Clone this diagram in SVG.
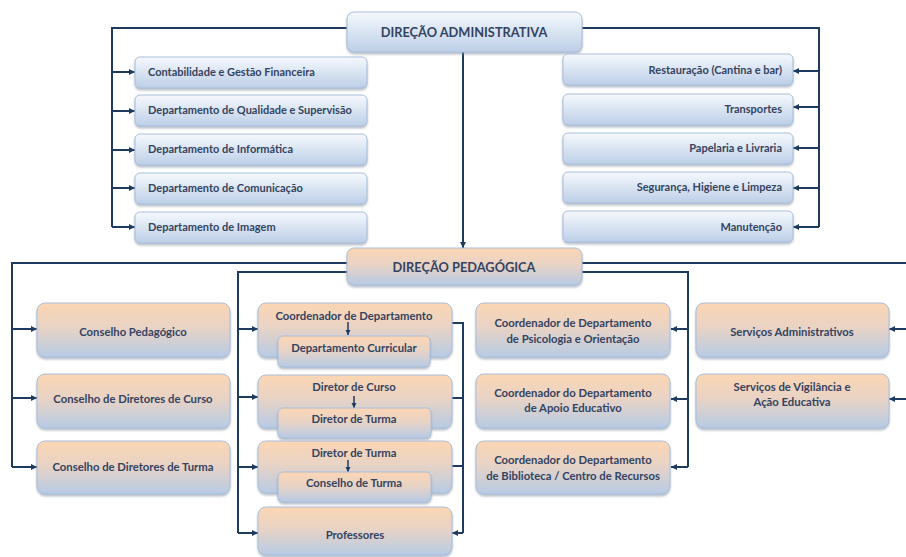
<svg xmlns="http://www.w3.org/2000/svg" width="906" height="557" viewBox="0 0 906 557">
<defs>
<linearGradient id="gA" x1="0" y1="0" x2="0" y2="1">
<stop offset="0" stop-color="#f6f9fd"/>
<stop offset="1" stop-color="#bccfe7"/>
</linearGradient>
<linearGradient id="gP" x1="0" y1="0" x2="0" y2="1">
<stop offset="0" stop-color="#fbd6b3"/>
<stop offset="0.45" stop-color="#e9d3c5"/>
<stop offset="1" stop-color="#b7cbe5"/>
</linearGradient>
<filter id="sh" x="-10%" y="-20%" width="120%" height="150%">
<feDropShadow dx="0" dy="2" stdDeviation="1.2" flood-color="#7f8da0" flood-opacity="0.55"/>
</filter>
<marker id="ar" markerUnits="userSpaceOnUse" markerWidth="7" markerHeight="7" refX="6" refY="3.5" orient="auto">
<path d="M0,0.5 L6,3.5 L0,6.5 z" fill="#1f3a5f"/>
</marker>
<marker id="ars" markerUnits="userSpaceOnUse" markerWidth="6" markerHeight="6" refX="5" refY="3" orient="auto">
<path d="M0,0.5 L5,3 L0,5.5 z" fill="#1f3a5f"/>
</marker>
</defs>
<style>
.a{fill:url(#gA);stroke:#a9bedb;stroke-width:1;filter:url(#sh)}
.p{fill:url(#gP);stroke:#a9bedb;stroke-width:1;filter:url(#sh)}
.c{fill:none;stroke:#1f3a5f;stroke-width:2}
.ca{fill:none;stroke:#1f3a5f;stroke-width:2;marker-end:url(#ar)}
.cs{fill:none;stroke:#1f3a5f;stroke-width:1.5;marker-end:url(#ars)}
text{font-family:Lato,"Open Sans","Liberation Sans",sans-serif;font-weight:bold;fill:#34435f;font-size:11.3px}
.h{font-size:12.8px;text-anchor:middle}
.s{font-size:11px}
.m{text-anchor:middle}
.r{text-anchor:end}
</style>

<g id="connectors">
<path class="c" d="M347,28 H112 V227"/>
<path class="ca" d="M112,72 H135"/>
<path class="ca" d="M112,111 H135"/>
<path class="ca" d="M112,150 H135"/>
<path class="ca" d="M112,188 H135"/>
<path class="ca" d="M112,227 H135"/>
<path class="c" d="M582,28 H819 V227"/>
<path class="ca" d="M819,71 H793"/>
<path class="ca" d="M819,107 H793"/>
<path class="ca" d="M819,148 H793"/>
<path class="ca" d="M819,188 H793"/>
<path class="ca" d="M819,227 H793"/>
<path class="ca" d="M463,52 V248"/>
<path class="c" d="M347,263 H12 V467"/>
<path class="ca" d="M12,329 H37"/>
<path class="ca" d="M12,398 H37"/>
<path class="ca" d="M12,467 H37"/>
<path class="c" d="M347,272 H238 V533"/>
<path class="ca" d="M238,329 H258"/>
<path class="ca" d="M238,397 H258"/>
<path class="ca" d="M238,467 H258"/>
<path class="ca" d="M238,533 H258"/>
<path class="c" d="M582,263 H906"/>
<path class="ca" d="M906,329 H889"/>
<path class="ca" d="M906,399 H889"/>
<path class="c" d="M582,272 H688 V467"/>
<path class="ca" d="M688,329 H671"/>
<path class="ca" d="M688,399 H671"/>
<path class="ca" d="M688,467 H671"/>
<path class="c" d="M452,323 H463 M452,398 H463 M452,466 H463 M463,322 V533"/>
<path class="ca" d="M463,533 H452"/>
</g>

<g id="dir-admin"><rect class="a" x="347" y="12" width="235" height="40" rx="7"/><text class="h" x="464" y="37">DIREÇÃO ADMINISTRATIVA</text></g>

<g id="contab"><rect class="a" x="135" y="57" width="232" height="31" rx="5"/><text class="s" x="148" y="76">Contabilidade e Gestão Financeira</text></g>
<g id="qualidade"><rect class="a" x="135" y="95" width="232" height="31" rx="5"/><text class="s" x="148" y="114">Departamento de Qualidade e Supervisão</text></g>
<g id="informatica"><rect class="a" x="135" y="134" width="232" height="31" rx="5"/><text class="s" x="148" y="153">Departamento de Informática</text></g>
<g id="comunicacao"><rect class="a" x="135" y="173" width="232" height="31" rx="5"/><text class="s" x="148" y="192">Departamento de Comunicação</text></g>
<g id="imagem"><rect class="a" x="135" y="212" width="232" height="31" rx="5"/><text class="s" x="148" y="231">Departamento de Imagem</text></g>

<g id="restauracao"><rect class="a" x="563" y="54" width="230" height="31" rx="5"/><text class="s r" x="782" y="74">Restauração (Cantina e bar)</text></g>
<g id="transportes"><rect class="a" x="563" y="94" width="230" height="31" rx="5"/><text class="s r" x="782" y="113">Transportes</text></g>
<g id="papelaria"><rect class="a" x="563" y="133" width="230" height="31" rx="5"/><text class="s r" x="782" y="152">Papelaria e Livraria</text></g>
<g id="seguranca"><rect class="a" x="563" y="172" width="230" height="31" rx="5"/><text class="s r" x="782" y="191">Segurança, Higiene e Limpeza</text></g>
<g id="manutencao"><rect class="a" x="563" y="211" width="230" height="31" rx="5"/><text class="s r" x="782" y="231">Manutenção</text></g>

<g id="dir-ped"><rect class="p" x="347" y="248" width="235" height="37" rx="7"/><text class="h" x="464" y="272">DIREÇÃO PEDAGÓGICA</text></g>

<g id="cons-ped"><rect class="p" x="37" y="303" width="193" height="54" rx="8"/><text class="m" x="133" y="336">Conselho Pedagógico</text></g>
<g id="cons-dir-curso"><rect class="p" x="37" y="374" width="193" height="54" rx="8"/><text class="m" x="133" y="403">Conselho de Diretores de Curso</text></g>
<g id="cons-dir-turma"><rect class="p" x="37" y="441" width="193" height="53" rx="8"/><text class="m" x="133" y="471">Conselho de Diretores de Turma</text></g>

<g id="coord-dep"><rect class="p" x="258" y="303" width="194" height="54" rx="8"/><text class="m" x="354" y="320">Coordenador de Departamento</text>
<path class="cs" d="M348,322 V335"/>
<rect class="p" x="278" y="336" width="152" height="31" rx="5"/><text class="m" x="354" y="352">Departamento Curricular</text></g>
<g id="dir-curso"><rect class="p" x="258" y="375" width="194" height="53" rx="8"/><text class="m" x="354" y="391">Diretor de Curso</text>
<path class="cs" d="M354,396 V408"/>
<rect class="p" x="278" y="408" width="153" height="30" rx="5"/><text class="m" x="354" y="423">Diretor de Turma</text></g>
<g id="dir-turma"><rect class="p" x="258" y="441" width="194" height="52" rx="8"/><text class="m" x="354" y="457">Diretor de Turma</text>
<path class="cs" d="M348,460 V472"/>
<rect class="p" x="278" y="472" width="153" height="30" rx="5"/><text class="m" x="354" y="487">Conselho de Turma</text></g>
<g id="professores"><rect class="p" x="258" y="507" width="194" height="48" rx="8"/><text class="m" x="355" y="539">Professores</text></g>

<g id="coord-psico"><rect class="p" x="476" y="303" width="194" height="54" rx="8"/><text class="m" x="573" y="327">Coordenador de Departamento</text><text class="m" x="573" y="343">de Psicologia e Orientação</text></g>
<g id="coord-apoio"><rect class="p" x="476" y="374" width="194" height="54" rx="8"/><text class="m" x="573" y="397">Coordenador do Departamento</text><text class="m" x="573" y="412">de Apoio Educativo</text></g>
<g id="coord-biblio"><rect class="p" x="476" y="441" width="194" height="53" rx="8"/><text class="m" x="573" y="464">Coordenador do Departamento</text><text class="m" x="573" y="480">de Biblioteca / Centro de Recursos</text></g>

<g id="serv-admin"><rect class="p" x="696" y="303" width="193" height="54" rx="8"/><text class="m" x="792" y="336">Serviços Administrativos</text></g>
<g id="serv-vigil"><rect class="p" x="696" y="374" width="193" height="54" rx="8"/><text class="m" x="792" y="391">Serviços de Vigilância e</text><text class="m" x="792" y="406">Ação Educativa</text></g>
</svg>
